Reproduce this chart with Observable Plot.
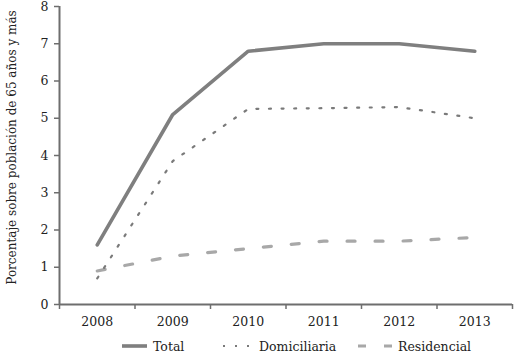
<!DOCTYPE html>
<html><head><meta charset="utf-8">
<script src="https://cdn.jsdelivr.net/npm/d3@7"></script>
<script src="https://cdn.jsdelivr.net/npm/@observablehq/plot@0.6"></script>
<style>
body{margin:0;background:#fff;font-family:"DejaVu Serif",serif;}
#legend{display:flex;height:22px;align-items:center;font-size:12.5px;color:#222;}
#legend span.item{position:absolute;display:flex;align-items:center;}
</style></head>
<body>
<div id="chart"></div>
<div id="legend" style="position:relative"></div>
<script>
const years = [2008, 2009, 2010, 2011, 2012, 2013];
const total = [1.6, 5.1, 6.8, 7.0, 7.0, 6.8];
const domiciliaria = [0.7, 3.85, 5.25, 5.27, 5.3, 5.0];
const residencial = [0.9, 1.3, 1.5, 1.7, 1.7, 1.8];
const yTicks = [0,1,2,3,4,5,6,7,8];
const seriesNames = ["Total", "Domiciliaria", "Residencial"];
const yLabel = "Porcentaje sobre población de 65 años y más";

const rows = (vals) => years.map((y,i) => ({year: y, value: vals[i]}));
const boundaries = d3.range(years.length + 1).map(i => years[0] - 0.5 + i);

const axisColor = "#6e6e6e";
const chart = Plot.plot({
  width: 525, height: 335,
  marginLeft: 59, marginRight: 13, marginTop: 6, marginBottom: 31,
  style: {fontFamily: "DejaVu Serif, serif", fontSize: "12.5px", color: "#222", background: "#fff", overflow: "visible"},
  x: {type: "linear", domain: [years[0]-0.5, years[years.length-1]+0.5]},
  y: {domain: [0, 8]},
  marks: [
    Plot.ruleX([years[0]-0.5], {stroke: axisColor, strokeWidth: 2}),
    Plot.ruleY([0], {stroke: axisColor, strokeWidth: 2}),
    Plot.axisY({ticks: yTicks, tickSize: 5, tickPadding: 6, stroke: axisColor, strokeWidth: 1.5, label: null, fill: "#222"}),
    Plot.axisX({ticks: boundaries, tickSize: 5, tickFormat: () => "", stroke: axisColor, strokeWidth: 1.5, label: null}),
    Plot.axisX({ticks: years, tickSize: 0, tickPadding: 13, tickFormat: d => String(d), label: null, fill: "#222"}),
    Plot.line(rows(residencial), {x: "year", y: "value", stroke: "#a8a8a8", strokeWidth: 3.2, strokeDasharray: "8 20"}),
    Plot.line(rows(domiciliaria), {x: "year", y: "value", stroke: "#7a7a7a", strokeWidth: 2.2, strokeDasharray: "2 10.6"}),
    Plot.line(rows(total), {x: "year", y: "value", stroke: "#7f7f7f", strokeWidth: 3.6}),
    Plot.text([yLabel], {frameAnchor: "left", text: d => d, rotate: -90, textAnchor: "middle", dx: -47, dy: -8, fill: "#222", fontSize: 12})
  ]
});
document.getElementById("chart").appendChild(chart);

const legend = document.getElementById("legend");
const items = [
  {name: seriesNames[0], left: 122, w: 25, stroke: "#7f7f7f", sw: 3.6, dash: null},
  {name: seriesNames[1], left: 223, w: 30, stroke: "#7a7a7a", sw: 2.2, dash: "2 10"},
  {name: seriesNames[2], left: 358, w: 34, stroke: "#a8a8a8", sw: 3.2, dash: "8 18"}
];
items.forEach(it => {
  const s = document.createElement("span");
  s.className = "item";
  s.style.left = it.left + "px";
  s.innerHTML = `<svg width="${it.w}" height="8" style="margin-right:6px"><line x1="0" x2="${it.w}" y1="4" y2="4" stroke="${it.stroke}" stroke-width="${it.sw}" ${it.dash ? `stroke-dasharray="${it.dash}"` : ""}/></svg>${it.name}`;
  legend.appendChild(s);
});
</script>
</body></html>
